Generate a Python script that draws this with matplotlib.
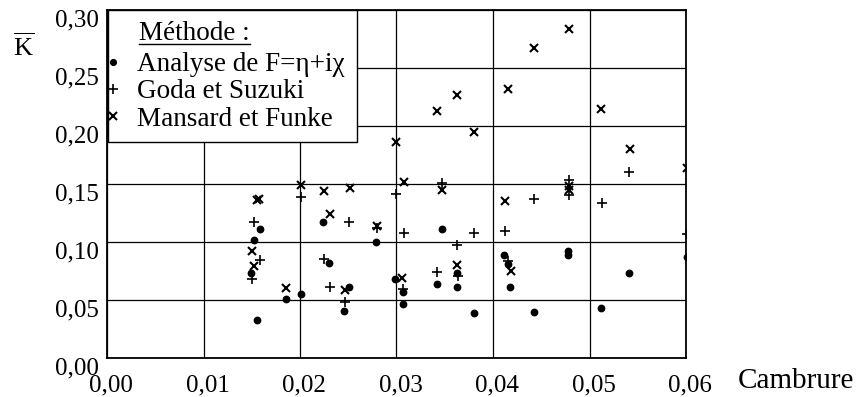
import matplotlib
matplotlib.use("Agg")
import matplotlib.pyplot as plt
from matplotlib.lines import Line2D
from matplotlib.patches import Rectangle
from matplotlib.transforms import ScaledTranslation

plt.rcParams['font.family'] = ['Liberation Serif', 'DejaVu Serif']
plt.rcParams['mathtext.fontset'] = 'custom'
plt.rcParams['mathtext.rm'] = 'Liberation Serif'
plt.rcParams['mathtext.it'] = 'Liberation Serif:italic'

# --- data ---
analyse_x = [0.0159, 0.0152, 0.0149, 0.0155, 0.0186, 0.0201, 0.0224, 0.0230, 0.0251, 0.0246,
             0.0279, 0.0298, 0.0307, 0.0307, 0.0347, 0.0342, 0.0363, 0.0363, 0.0380, 0.0411,
             0.0416, 0.0418, 0.0442, 0.0478, 0.0478, 0.0512, 0.0541, 0.0601]
analyse_y = [0.111, 0.1016, 0.0735, 0.0324, 0.0512, 0.055, 0.117, 0.0818, 0.0615, 0.0406,
             0.0998, 0.068, 0.0564, 0.0464, 0.111, 0.0641, 0.0735, 0.0615, 0.0384, 0.0884,
             0.0807, 0.0612, 0.0398, 0.092, 0.089, 0.0427, 0.073, 0.087]

goda_x = [0.0152, 0.0159, 0.0150, 0.0201, 0.0251, 0.0225, 0.0231, 0.0247, 0.0280, 0.0300,
          0.0308, 0.0307, 0.0347, 0.0342, 0.0363, 0.0364, 0.0380, 0.0412, 0.0416, 0.0442,
          0.0479, 0.0479, 0.0513, 0.0541, 0.0601]
goda_y = [0.117, 0.084, 0.068, 0.139, 0.117, 0.085, 0.0612, 0.0478, 0.112, 0.141,
          0.108, 0.0598, 0.151, 0.0744, 0.097, 0.0706, 0.108, 0.109, 0.0835, 0.1365,
          0.153, 0.140, 0.133, 0.160, 0.107]

mansard_x = [0.0155, 0.0157, 0.0150, 0.0152, 0.0186, 0.0201, 0.0225, 0.0231, 0.0252, 0.0247,
             0.0280, 0.0299, 0.0308, 0.0306, 0.0342, 0.0347, 0.0363, 0.0363, 0.0380, 0.0412,
             0.0416, 0.0419, 0.0443, 0.0479, 0.0479, 0.0479, 0.0512, 0.0542, 0.0601]
mansard_y = [0.136, 0.137, 0.092, 0.0796, 0.0604, 0.1488, 0.1436, 0.124, 0.146, 0.0584,
             0.114, 0.186, 0.1513, 0.0687, 0.2123, 0.1445, 0.226, 0.0798, 0.1946, 0.135,
             0.2315, 0.075, 0.2667, 0.283, 0.148, 0.145, 0.2146, 0.180, 0.1637]

x_ticks = [0.00, 0.01, 0.02, 0.03, 0.04, 0.05, 0.06]
x_ticklabels = ['0,00', '0,01', '0,02', '0,03', '0,04', '0,05', '0,06']
y_ticks = [0.00, 0.05, 0.10, 0.15, 0.20, 0.25, 0.30]
y_ticklabels = ['0,00', '0,05', '0,10', '0,15', '0,20', '0,25', '0,30']

W, H = 866, 397
fig = plt.figure(figsize=(W / 100, H / 100), dpi=100)
ax = fig.add_axes([107 / W, 1 - 358 / H, (686 - 107) / W, (358 - 9.5) / H])

ax.plot(analyse_x, analyse_y, linestyle='none', marker='o', ms=4.6, color='black',
        label='Analyse de F=η+iχ', zorder=3)
ax.plot(goda_x, goda_y, linestyle='none', marker='+', ms=7.5, mew=1.2, color='black',
        label='Goda et Suzuki', zorder=3)
ax.plot(mansard_x, mansard_y, linestyle='none', marker='x', ms=6.2, mew=1.5, color='black',
        label='Mansard et Funke', zorder=3)

ax.set_xlim(0, 0.06)
ax.set_ylim(0, 0.30)
ax.set_xticks(x_ticks)
ax.set_xticklabels(x_ticklabels, fontsize=18)
ax.set_yticks(y_ticks)
ax.set_yticklabels(y_ticklabels, fontsize=18)
ax.tick_params(axis='both', length=0)
ax.tick_params(axis='x', pad=12)
ax.tick_params(axis='y', pad=6)
for lab in ax.get_yticklabels():
    lab.set_transform(lab.get_transform() + ScaledTranslation(0, -8 / 100, fig.dpi_scale_trans))
for lab in ax.get_xticklabels():
    lab.set_transform(lab.get_transform() + ScaledTranslation(4 / 100, 0, fig.dpi_scale_trans))

ax.grid(True, color='black', linewidth=0.9)
ax.set_axisbelow(True)
for sp in ax.spines.values():
    sp.set_linewidth(1.3)

# legend box (drawn separately), title and entries
fig.add_artist(Rectangle((108 / W, 1 - 142 / H), (357 - 108) / W, (142 - 10) / H,
                         transform=fig.transFigure, facecolor='white', edgecolor='black',
                         lw=1.0, zorder=4))
leg = fig.legend(handles=ax.get_lines(), loc='upper left', bbox_to_anchor=(109 / W, 1 - 52 / H),
                 fontsize=19.5, frameon=False, handlelength=0.3, handletextpad=0.75,
                 labelspacing=0.09, borderpad=0.0, borderaxespad=0.0, markerscale=0.9)
leg.set_zorder(5)
title = fig.text(139 / W, 1 - 34 / H, 'Méthode :', fontsize=19.5, ha='left', va='center', zorder=6)

fig.text(24 / W, 1 - 47 / H, r'$\overline{\mathrm{K}}$', fontsize=19, ha='center', va='center')
fig.text(738 / W, 1 - 381 / H, 'Cambrure', fontsize=21, ha='left', va='center')

# underline legend title
fig.canvas.draw()
bb = title.get_window_extent()
uy = bb.y0 + 3
fig.add_artist(Line2D([bb.x0 / W, bb.x1 / W], [uy / H, uy / H], color='black', lw=1.0, zorder=10))

fig.savefig('out.png', dpi=100)
